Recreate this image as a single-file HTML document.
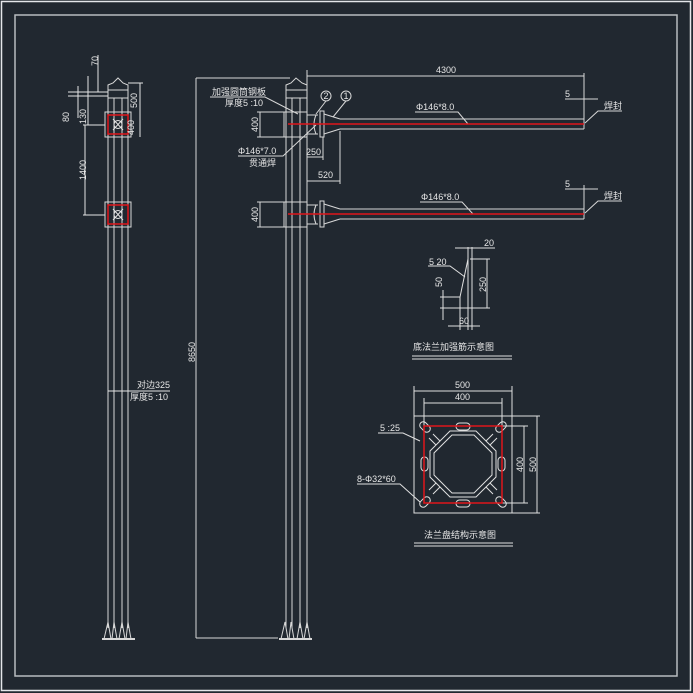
<!DOCTYPE html>
<html><head><meta charset="utf-8"><style>
html,body{margin:0;padding:0;background:#212830;}
svg{display:block}
text{font-family:"Liberation Sans","Noto Sans CJK SC",sans-serif;fill:#e6e6e6;font-size:9px}
</style></head><body>
<svg width="693" height="693" viewBox="0 0 693 693" xmlns="http://www.w3.org/2000/svg">
<rect width="693" height="693" fill="#212830"/>
<g fill="none" stroke="#e4e6ea" stroke-width="1">
<rect x="1.5" y="1.5" width="689" height="689" stroke-width="1.5"/>
<rect x="15" y="15" width="662" height="661" stroke="#b8bcc0" stroke-width="1.5"/>

<g stroke="#d8d8d8">
<line x1="108" y1="98" x2="108" y2="628"/><line x1="114" y1="98" x2="114" y2="628"/>
<line x1="122" y1="98" x2="122" y2="628"/><line x1="128" y1="98" x2="128" y2="628"/>
<path d="M108 98 V85 L113 83 L118 78 L123 83 L128 85 V98 Z"/>
<line x1="108" y1="90" x2="128" y2="90"/>
<rect x="105" y="112" width="26" height="25"/>
<rect x="105" y="202" width="26" height="25"/>
<line x1="102" y1="639" x2="135" y2="639" stroke-width="2"/>
<path d="M104 639 L108 622 L111 639 M112 639 L114 622 L117 639 M119 639 L122 622 L125 639 M126 639 L128 622 L131 639"/>
</g>
<g stroke="#e0161a" stroke-width="1.5"><rect x="108" y="115" width="20" height="19"/><rect x="108" y="205" width="20" height="19"/></g>
<g stroke="#e4e4e4">
<path d="M113 119 L123 130 M123 119 L113 130"/><circle cx="118" cy="124.5" r="4"/>
<path d="M113 209 L123 220 M123 209 L113 220"/><circle cx="118" cy="214.5" r="4"/>
<line x1="68" y1="92" x2="108" y2="92"/><line x1="68" y1="96" x2="108" y2="96"/>
<line x1="78" y1="86" x2="78" y2="118"/><line x1="88" y1="76" x2="88" y2="125"/>
<line x1="98" y1="55" x2="98" y2="92"/>
<line x1="140" y1="83" x2="140" y2="137"/><line x1="128" y1="83" x2="143" y2="83"/>
<line x1="85" y1="125" x2="85" y2="215"/><line x1="83" y1="125" x2="105" y2="125"/><line x1="83" y1="215" x2="105" y2="215"/>
<line x1="108" y1="391" x2="170" y2="391"/>
</g>

<g stroke="#d8d8d8">
<line x1="286" y1="98" x2="286" y2="628"/><line x1="292" y1="98" x2="292" y2="628"/>
<line x1="300" y1="98" x2="300" y2="628"/><line x1="307" y1="98" x2="307" y2="628"/>
<path d="M286 98 V85 L291 83 L296 78 L302 83 L307 85 V98 Z"/>
<line x1="286" y1="90" x2="307" y2="90"/>
<rect x="284" y="112" width="23" height="25"/>
<rect x="284" y="202" width="23" height="25"/>
<line x1="279" y1="639" x2="312" y2="639" stroke-width="2"/>
<path d="M281 639 L285 622 L288 639 M289 639 L291 622 L294 639 M297 639 L300 622 L303 639 M304 639 L307 622 L310 639"/>
<line x1="196" y1="78" x2="196" y2="638"/><line x1="196" y1="78" x2="290" y2="78"/><line x1="196" y1="638" x2="278" y2="638"/>
<path d="M307 115 H318 M307 134 H318"/><path d="M316 115 Q312 124.5 316 134"/>
<rect x="320" y="111" width="4" height="26"/>
<path d="M324 114 L340 119 M324 134 L340 129"/>
<line x1="340" y1="119" x2="584" y2="119"/><line x1="340" y1="129" x2="584" y2="129"/>
<line x1="584" y1="73" x2="584" y2="129"/>
<path d="M307 205 H318 M307 224 H318"/><path d="M316 205 Q312 214.5 316 224"/>
<rect x="320" y="201" width="4" height="26"/>
<path d="M324 204 L340 209 M324 224 L340 219"/>
<line x1="340" y1="209" x2="584" y2="209"/><line x1="340" y1="219" x2="584" y2="219"/>
<line x1="584" y1="185" x2="584" y2="219"/>
<line x1="307" y1="76" x2="584" y2="76"/><line x1="307" y1="70" x2="307" y2="90"/>
<line x1="565" y1="99" x2="598" y2="99"/><line x1="565" y1="189" x2="598" y2="189"/>
<line x1="260" y1="112" x2="260" y2="137"/><line x1="257" y1="112" x2="284" y2="112"/><line x1="257" y1="137" x2="284" y2="137"/>
<line x1="260" y1="202" x2="260" y2="227"/><line x1="257" y1="202" x2="284" y2="202"/><line x1="257" y1="227" x2="284" y2="227"/>
<line x1="307" y1="157" x2="323" y2="157"/><line x1="323" y1="137" x2="323" y2="160"/>
<line x1="307" y1="181" x2="340" y2="181"/><line x1="340" y1="131" x2="340" y2="184"/>
<path d="M210 97 H265 L298 114"/>
<path d="M238 156 H283 L316 125"/>
<path d="M326 101 L316 114"/><circle cx="326" cy="96" r="5"/>
<path d="M346 101 L333 117"/><circle cx="346" cy="96" r="5"/>
<path d="M415 112 H458 L468 124"/><path d="M420 202 H462 L473 214"/>
<path d="M622 111 H598 L585 123"/><path d="M622 201 H598 L585 213"/>
</g>
<g stroke="#e0161a" stroke-width="1.5">
<line x1="288" y1="124" x2="584" y2="124"/><line x1="288" y1="214" x2="584" y2="214"/>
</g>

<g stroke="#e0e0e0">
<line x1="468" y1="247" x2="468" y2="330"/><line x1="472" y1="247" x2="472" y2="330"/>
<line x1="455" y1="248" x2="495" y2="248"/>
<line x1="470" y1="259" x2="490" y2="259"/>
<path d="M468 259 L460 297 V308"/>
<line x1="440" y1="308" x2="490" y2="308"/><line x1="440" y1="297" x2="460" y2="297"/>
<line x1="487" y1="259" x2="487" y2="308"/>
<line x1="443" y1="290" x2="443" y2="320"/>
<line x1="448" y1="326" x2="480" y2="326"/><line x1="460" y1="308" x2="460" y2="330"/>
<path d="M428 266 H450 L465 277"/>
<line x1="412" y1="356" x2="512" y2="356"/><line x1="412" y1="359" x2="512" y2="359"/>
</g>

<g stroke="#e0e0e0">
<rect x="414" y="416" width="98" height="97"/>
<line x1="512" y1="416" x2="540" y2="416"/><line x1="512" y1="513" x2="540" y2="513"/>
<line x1="502" y1="426" x2="528" y2="426"/><line x1="502" y1="503" x2="528" y2="503"/>
<line x1="414" y1="391" x2="512" y2="391"/><line x1="414" y1="386" x2="414" y2="416"/><line x1="512" y1="386" x2="512" y2="416"/>
<line x1="424" y1="403" x2="502" y2="403"/><line x1="424" y1="398" x2="424" y2="426"/><line x1="502" y1="398" x2="502" y2="426"/>
<line x1="524" y1="426" x2="524" y2="503"/><line x1="537" y1="416" x2="537" y2="513"/>
<polygon points="450,431 476,431 496,451 496,477 476,497 450,497 430,477 430,451"/>
<polygon points="452,435 474,435 492,453 492,475 474,493 452,493 434,475 434,453"/>
<path d="M440 441 L433 434 M436 445 L429 438 M486 441 L493 434 M490 445 L497 438 M440 487 L433 494 M436 483 L429 490 M486 487 L493 494 M490 483 L497 490"/>
<rect x="456" y="423" width="14" height="7" rx="3.5"/><rect x="456" y="500" width="14" height="7" rx="3.5"/>
<rect x="421" y="457" width="7" height="14" rx="3.5"/><rect x="498" y="457" width="7" height="14" rx="3.5"/>
<g transform="translate(425,427) rotate(45)"><rect x="-6" y="-3.5" width="12" height="7" rx="3.5"/></g>
<g transform="translate(501,427) rotate(-45)"><rect x="-6" y="-3.5" width="12" height="7" rx="3.5"/></g>
<g transform="translate(425,502) rotate(-45)"><rect x="-6" y="-3.5" width="12" height="7" rx="3.5"/></g>
<g transform="translate(501,502) rotate(45)"><rect x="-6" y="-3.5" width="12" height="7" rx="3.5"/></g>
<path d="M378 433 H403 L420 441"/><path d="M357 484 H400 L420 502"/>
<line x1="414" y1="543" x2="513" y2="543"/><line x1="414" y1="546" x2="513" y2="546"/>
</g>
<rect x="424" y="426" width="78" height="77" fill="none" stroke="#e0161a" stroke-width="1.5"/>
</g>

<text x="0" y="0" transform="translate(98,66) rotate(-90)">70</text>
<text x="0" y="0" transform="translate(137,108) rotate(-90)">500</text>
<text x="0" y="0" transform="translate(69,122) rotate(-90)">80</text>
<text x="0" y="0" transform="translate(86,124) rotate(-90)">130</text>
<text x="0" y="0" transform="translate(134,135) rotate(-90)">400</text>
<text x="0" y="0" transform="translate(86,180) rotate(-90)">1400</text>
<text x="137" y="388">对边325</text>
<text x="130" y="400">厚度5 :10</text>
<text x="0" y="0" transform="translate(195,362) rotate(-90)">8650</text>
<text x="212" y="95">加强圆筒钢板</text>
<text x="225" y="106">厚度5 :10</text>
<text x="0" y="0" transform="translate(258,132) rotate(-90)">400</text>
<text x="0" y="0" transform="translate(258,222) rotate(-90)">400</text>
<text x="238" y="154">Φ146*7.0</text>
<text x="249" y="166">贯通焊</text>
<text x="306" y="155" font-size="8.5">250</text>
<text x="318" y="178">520</text>
<text x="323.5" y="99" font-size="7">2</text>
<text x="343.5" y="99" font-size="7">1</text>
<text x="436" y="73">4300</text>
<text x="565" y="97">5</text><text x="565" y="187">5</text>
<text x="604" y="109">焊封</text><text x="604" y="199">焊封</text>
<text x="416" y="110">Φ146*8.0</text>
<text x="421" y="200">Φ146*8.0</text>
<text x="484" y="246">20</text>
<text x="429" y="265">5 20</text>
<text x="0" y="0" transform="translate(442,287) rotate(-90)">50</text>
<text x="0" y="0" transform="translate(486,292) rotate(-90)">250</text>
<text x="459" y="324">60</text>
<text x="413" y="350" font-size="10.5">底法兰加强筋示意图</text>
<text x="455" y="388">500</text>
<text x="455" y="400">400</text>
<text x="0" y="0" transform="translate(523,472) rotate(-90)">400</text>
<text x="0" y="0" transform="translate(536,472) rotate(-90)">500</text>
<text x="380" y="431">5 :25</text>
<text x="357" y="482">8-Φ32*60</text>
<text x="424" y="538" font-size="10.5">法兰盘结构示意图</text>
</svg>
</body></html>
